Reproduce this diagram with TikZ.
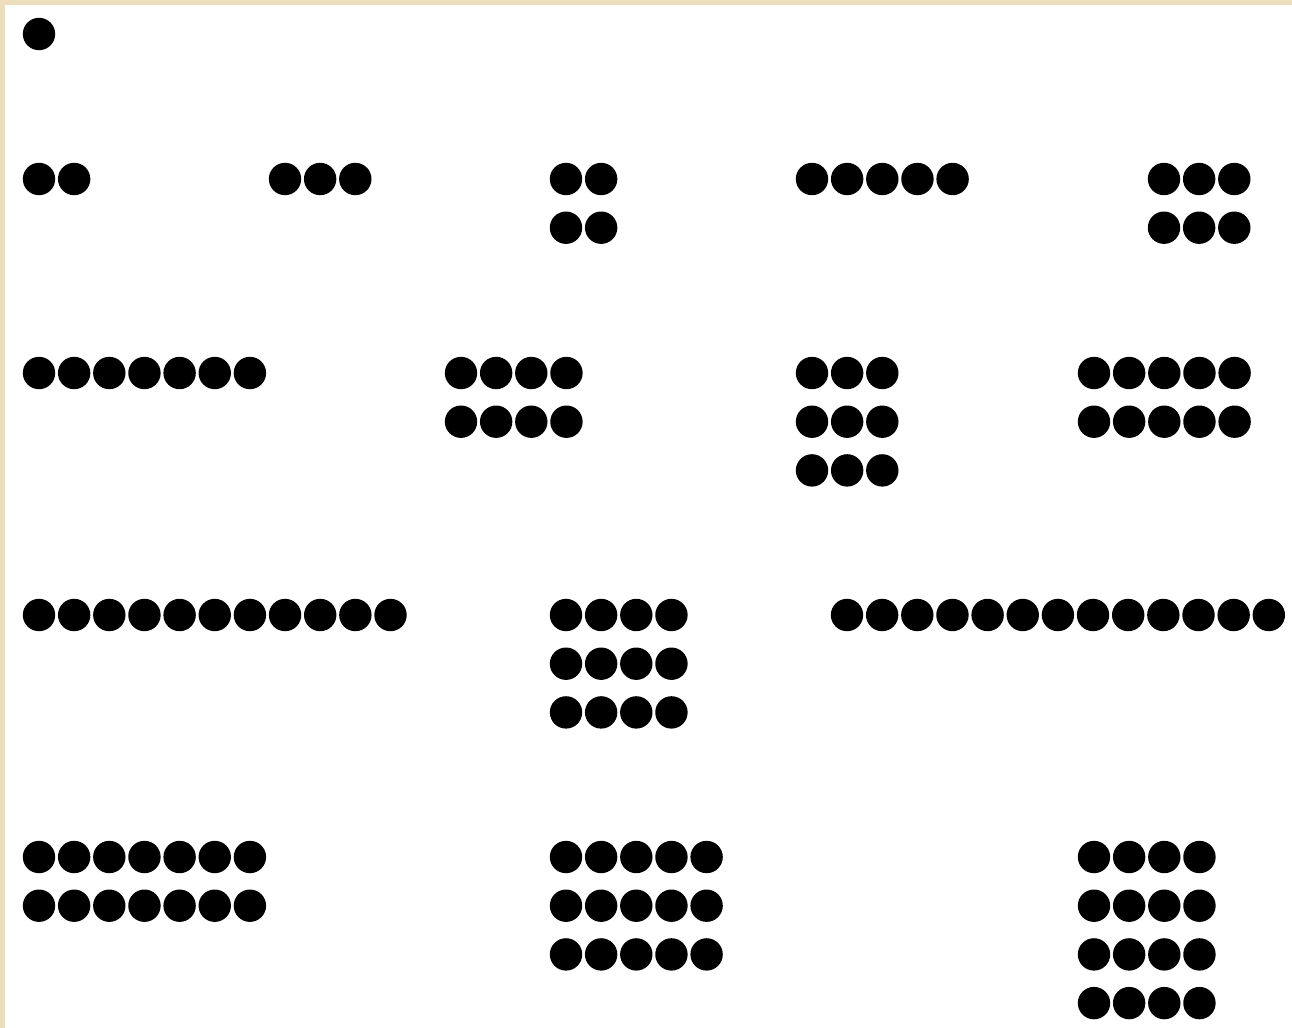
\documentclass[tikz,border=0pt]{standalone}
\definecolor{parch}{RGB}{236,222,188}
\tikzset{dotfill/.style={fill=black}}
\newcommand{\dotgrid}[4]{% x, y, cols, rows
  \foreach \r in {1,...,#4}{
    \foreach \c in {1,...,#3}{
      \fill[dotfill] ({#1+(\c-1)*35.15},{-(#2+(\r-1)*48.7)}) circle (16.2);
    }
  }
}
\begin{document}
\begin{tikzpicture}[x=0.02cm,y=0.02cm]
\useasboundingbox (0,0) rectangle (1292,-1028);
\fill[parch] (0,0) rectangle (1292,-1028);
\fill[white] (5,-5) rectangle (1292,-1028);
\dotgrid{39}{34}{1}{1}
\dotgrid{39}{179}{2}{1}
\dotgrid{285}{179}{3}{1}
\dotgrid{566}{179}{2}{2}
\dotgrid{812}{179}{5}{1}
\dotgrid{1164}{179}{3}{2}
\dotgrid{39}{373}{7}{1}
\dotgrid{461}{373}{4}{2}
\dotgrid{812}{373}{3}{3}
\dotgrid{1094}{373}{5}{2}
\dotgrid{39}{615}{11}{1}
\dotgrid{566}{615}{4}{3}
\dotgrid{847}{615}{13}{1}
\dotgrid{39}{857}{7}{2}
\dotgrid{566}{857}{5}{3}
\dotgrid{1094}{857}{4}{4}
\end{tikzpicture}
\end{document}
